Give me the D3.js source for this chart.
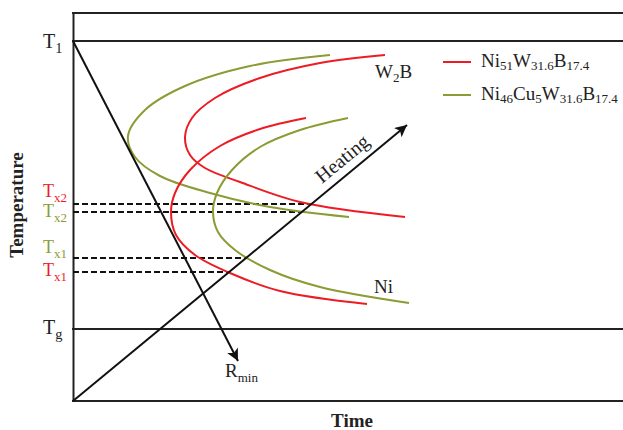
<!DOCTYPE html>
<html>
<head>
<meta charset="utf-8">
<script src="https://cdn.jsdelivr.net/npm/d3@7"></script>
<style>
  body { margin: 0; background: #fff; }
  text { font-family: "Liberation Serif", "Times New Roman", serif; fill: #222; }
</style>
</head>
<body>
<script>
// schematic units: time 0-110, temperature 0-97
const red = "#ed1c24"
const green = "#8b9c34"

const frameTemps = [97, 90, 18, 0]          // top edge, T1, Tg, time axis
const levelLabels = [{ sub: "1", T: 90 }, { sub: "g", T: 18 }]
const txLevels = [
    { sub: "x2", T: 49.25, color: red },
    { sub: "x2", T: 47.25, color: green },
    { sub: "x1", T: 35.75, color: green },
    { sub: "x1", T: 32.25, color: red }
]
const cooling = [[0, 90], [33, 10]]
const heating = [[0, 0], [66.8, 69]]

// C-curves (time, temperature)
const w2bGreen = [[51.4, 86.5], [35.4, 83.75], [22.4, 78.75], [14.4, 72.75], [11, 66.25],
    [12.4, 61], [17.4, 56.25], [27.4, 52], [39.4, 48.5], [55.2, 46]]
const w2bRed = [[62.4, 86.5], [49.4, 84.5], [37.4, 80.75], [28.4, 75.75], [23.8, 70.75], [22.4, 66],
    [23.4, 61.5], [26.4, 58.25], [33.4, 54.75], [45.4, 49.75], [66.4, 46]]
const niRed = [[46.6, 70.75], [37.4, 68], [29.4, 63.75], [23.4, 57.75], [20.4, 52], [19.6, 47.25],
    [20.6, 41.5], [24.4, 36.5], [31.4, 32], [41.4, 27.5], [58.8, 24.25]]
const niGreen = [[55, 70.75], [45.4, 67.75], [37.4, 63.5], [31.8, 57.75], [28.8, 52], [28, 47.25],
    [29, 42.25], [32.4, 37.75], [39.4, 32.75], [49.4, 28.5], [67.2, 24.5]]

const legendItems = [
    { color: red, parts: [["Ni", 0], ["51", 1], ["W", 0], ["31.6", 1], ["B", 0], ["17.4", 1]] },
    { color: green, parts: [["Ni", 0], ["46", 1], ["Cu", 0], ["5", 1], ["W", 0], ["31.6", 1], ["B", 0], ["17.4", 1]] }
]

let width = 623
let height = 430

let svg = d3.select("body").append("svg")
    .attr("width", width)
    .attr("height", height)

let x = d3.scaleLinear().domain([0, 110]).range([73, 623])
let y = d3.scaleLinear().domain([0, 97]).range([401, 13])

// arrowhead
svg.append("defs").append("marker")
    .attr("id", "arrow")
    .attr("viewBox", "0 0 10 10")
    .attr("refX", 10).attr("refY", 5)
    .attr("markerWidth", 19).attr("markerHeight", 12)
    .attr("markerUnits", "userSpaceOnUse")
    .attr("orient", "auto")
    .append("path")
    .attr("d", "M0,0 L10,5 L0,10 L2.5,5 Z")
    .attr("fill", "#111")

// left axis line
svg.append("g")
    .attr("transform", `translate(${x(0)},0)`)
    .call(d3.axisLeft(y).ticks(0).tickSizeOuter(0))
    .select(".domain").attr("stroke", "#222").attr("stroke-width", 2)

// horizontal frame lines
svg.append("g").selectAll("line")
    .data(frameTemps)
    .enter().append("line")
    .attr("x1", x(0) - 1).attr("x2", x(110))
    .attr("y1", d => y(d)).attr("y2", d => y(d))
    .attr("stroke", "#222").attr("stroke-width", 2)

// dashed Tx lines, stopping at the heating line
let heatSlope = heating[1][0] / heating[1][1]
svg.append("g").selectAll("line")
    .data(txLevels)
    .enter().append("line")
    .attr("x1", x(0)).attr("x2", d => x(d.T * heatSlope))
    .attr("y1", d => y(d.T)).attr("y2", d => y(d.T))
    .attr("stroke", "#111").attr("stroke-width", 2)
    .attr("stroke-dasharray", "6,3")

// TTT curves
let line = d3.line()
    .x(d => x(d[0])).y(d => y(d[1]))
    .curve(d3.curveCatmullRom.alpha(0.5))

let curves = [[w2bGreen, green], [w2bRed, red], [niRed, red], [niGreen, green]]
svg.append("g").selectAll("path")
    .data(curves)
    .enter().append("path")
    .attr("d", d => line(d[0]))
    .attr("fill", "none")
    .attr("stroke", d => d[1])
    .attr("stroke-width", 2)

// cooling and heating arrows
svg.append("g").selectAll("path")
    .data([cooling, heating])
    .enter().append("path")
    .attr("d", d => d3.line().x(p => x(p[0])).y(p => y(p[1]))(d))
    .attr("stroke", "#111").attr("stroke-width", 2)
    .attr("marker-end", "url(#arrow)")

// T labels on the left
function tLabel(g, xPos, yPos, sub, color, size) {
    let t = g.append("text")
        .attr("x", xPos).attr("y", yPos)
        .attr("font-size", size)
    t.append("tspan").text("T").style("fill", color)
    t.append("tspan").text(sub).attr("font-size", size * 0.72).attr("dy", 5).style("fill", color)
}
let labels = svg.append("g")
tLabel(labels, 43, y(levelLabels[0].T) + 7, levelLabels[0].sub, "#222", 20)
tLabel(labels, 43, y(levelLabels[1].T) + 5, levelLabels[1].sub, "#222", 20)
let txNudge = [-7, 5, -5, 4]
txLevels.forEach((d, i) => tLabel(labels, 43, y(d.T) + txNudge[i], d.sub, d.color, 18))

// axis titles
svg.append("text")
    .attr("transform", "translate(23,205) rotate(-90)")
    .attr("text-anchor", "middle")
    .attr("font-size", 19).attr("font-weight", "bold")
    .text("Temperature")

svg.append("text")
    .attr("x", 352).attr("y", 427)
    .attr("text-anchor", "middle")
    .attr("font-size", 19).attr("font-weight", "bold")
    .text("Time")

// annotations
let rmin = svg.append("text").attr("x", 225).attr("y", 377).attr("font-size", 19)
rmin.append("tspan").text("R")
rmin.append("tspan").text("min").attr("font-size", 13).attr("dy", 5)

let w2b = svg.append("text").attr("x", 375).attr("y", 78).attr("font-size", 19)
w2b.append("tspan").text("W")
w2b.append("tspan").text("2").attr("font-size", 13).attr("dy", 4)
w2b.append("tspan").text("B").attr("dy", -4)

svg.append("text").attr("x", 374).attr("y", 293).attr("font-size", 19).text("Ni")

let angle = -Math.atan2(y(heating[0][1]) - y(heating[1][1]), x(heating[1][0]) - x(heating[0][0])) * 180 / Math.PI
svg.append("text")
    .attr("transform", `translate(322,184) rotate(${angle})`)
    .attr("font-size", 20)
    .text("Heating")

// legend
let legend = svg.append("g")
legendItems.forEach((item, i) => {
    let ly = 62 + i * 33
    legend.append("line")
        .attr("x1", 443).attr("x2", 471)
        .attr("y1", ly).attr("y2", ly)
        .attr("stroke", item.color).attr("stroke-width", 2)
    let t = legend.append("text").attr("x", 481).attr("y", ly + 5).attr("font-size", 19)
    let prevSub = 0
    item.parts.forEach(p => {
        let dy = p[1] === prevSub ? 0 : (p[1] ? 3 : -3)
        t.append("tspan").text(p[0])
            .attr("font-size", p[1] ? 13 : 19)
            .attr("dy", dy)
        prevSub = p[1]
    })
})
</script>
</body>
</html>
